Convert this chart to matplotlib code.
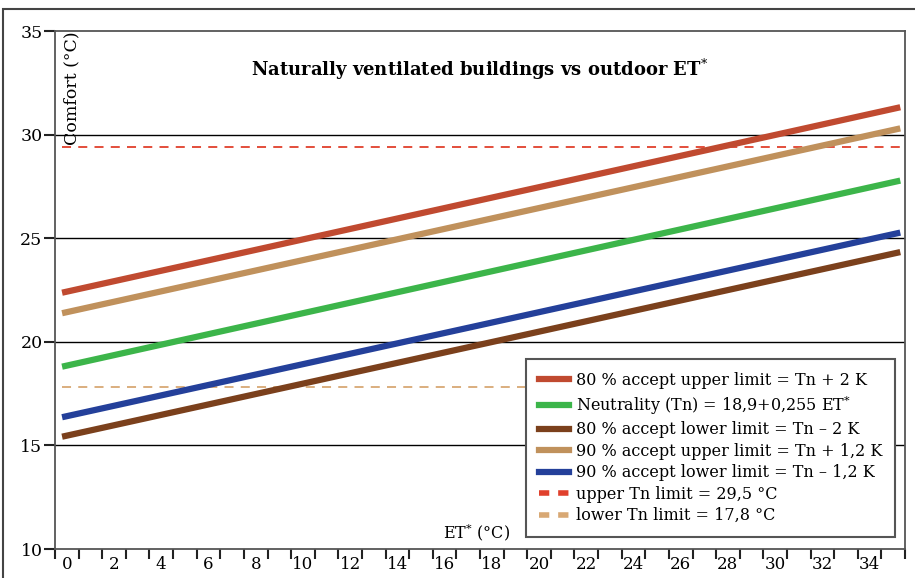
import matplotlib.pyplot as plt
from matplotlib.lines import Line2D
from matplotlib.patches import Rectangle

plt.rcParams['font.family'] = ['DejaVu Serif']
plt.rcParams['mathtext.fontset'] = 'dejavuserif'

# ET* at start and end of each line (as drawn)
et = [-0.2, 35.3]
upper80 = [22.37, 31.32]
neutral = [18.80, 27.78]
lower80 = [15.42, 24.33]
upper90 = [21.38, 30.30]
lower90 = [16.36, 25.27]
upper_tn = 29.42
lower_tn = 17.83

labels = ['80 % accept upper limit = Tn + 2 K',
          'Neutrality (Tn) = 18,9+0,255 ET$^{*}$',
          '80 % accept lower limit = Tn \u2013 2 K',
          '90 % accept upper limit = Tn + 1,2 K',
          '90 % accept lower limit = Tn \u2013 1,2 K',
          'upper Tn limit = 29,5 \u00b0C',
          'lower Tn limit = 17,8 \u00b0C']
colors = ['#c04a30', '#3cb54a', '#7b401c', '#c0915c', '#24409a']
dash_colors = ['#e0402c', '#d8a874']
xticks = list(range(0, 35, 2))
yticks = [10, 15, 20, 25, 30, 35]

fig = plt.figure(figsize=(9.15, 5.78), dpi=100)
fig.patches.append(Rectangle((3/915, -0.1), 1.0, 0.1 + (1 - 9/578), transform=fig.transFigure,
                             fill=False, edgecolor='#444444', linewidth=1.5))
ax = fig.add_axes([55/915, 1 - 549/578, 850/915, 518/578])

ax.set_xlim(-0.5, 35.5)
ax.set_ylim(10, 35)

for yv in yticks[1:-1]:
    ax.axhline(yv, color='black', linewidth=1, zorder=1)

ax.plot(et, [upper_tn, upper_tn], color=dash_colors[0], linewidth=1.3, dashes=(5, 4), zorder=2)
ax.plot([et[0], 22], [lower_tn, lower_tn], color=dash_colors[1], linewidth=1.3, dashes=(5, 4), zorder=2)

series = [upper80, neutral, lower80, upper90, lower90]
for s, c in zip(series, colors):
    ax.plot(et, s, color=c, linewidth=4.5, solid_capstyle='butt', zorder=3)

handles = [Line2D([], [], color=c, linewidth=4.5) for c in colors]
handles += [Line2D([], [], color=c, linewidth=4, dashes=(1.85, 1.6)) for c in dash_colors]
leg = ax.legend(handles, labels, loc='lower right', bbox_to_anchor=(0.998, 0.008),
                fontsize=11.5, frameon=True, fancybox=False, framealpha=1,
                edgecolor='#555555', handlelength=1.9, handletextpad=0.45,
                labelspacing=0.28, borderpad=0.8)
leg.get_frame().set_linewidth(1.5)
leg.set_zorder(5)

ax.set_xticks([i - 0.5 for i in range(37)])
ax.set_xticklabels([])
ax.set_xticks(xticks, minor=True)
ax.set_xticklabels([str(v) for v in xticks], minor=True, fontsize=12)
ax.tick_params(axis='x', which='major', direction='out', length=7, width=1.5, color='#222222')
ax.tick_params(axis='x', which='minor', length=0, pad=5)
ax.set_yticks(yticks)
ax.set_yticklabels([str(v) for v in yticks], fontsize=12.5)
ax.tick_params(axis='y', direction='out', length=8, width=1.5, color='#222222', pad=1)

for sp in ['left', 'right', 'top', 'bottom']:
    ax.spines[sp].set_color('#555555')
    ax.spines[sp].set_linewidth(1.3)

ax.text(0.5, 0.925, 'Naturally ventilated buildings vs outdoor ET$^{*}$', transform=ax.transAxes,
        ha='center', va='center', fontsize=13, fontweight='bold')
ax.text(0.02, 1.0, 'Comfort (\u00b0C)', transform=ax.transAxes, rotation=90,
        ha='center', va='top', fontsize=12.5)
ax.text(0.496, 0.012, 'ET$^{*}$ (\u00b0C)', transform=ax.transAxes,
        ha='center', va='bottom', fontsize=11.5)

fig.savefig('out.png', dpi=100)
